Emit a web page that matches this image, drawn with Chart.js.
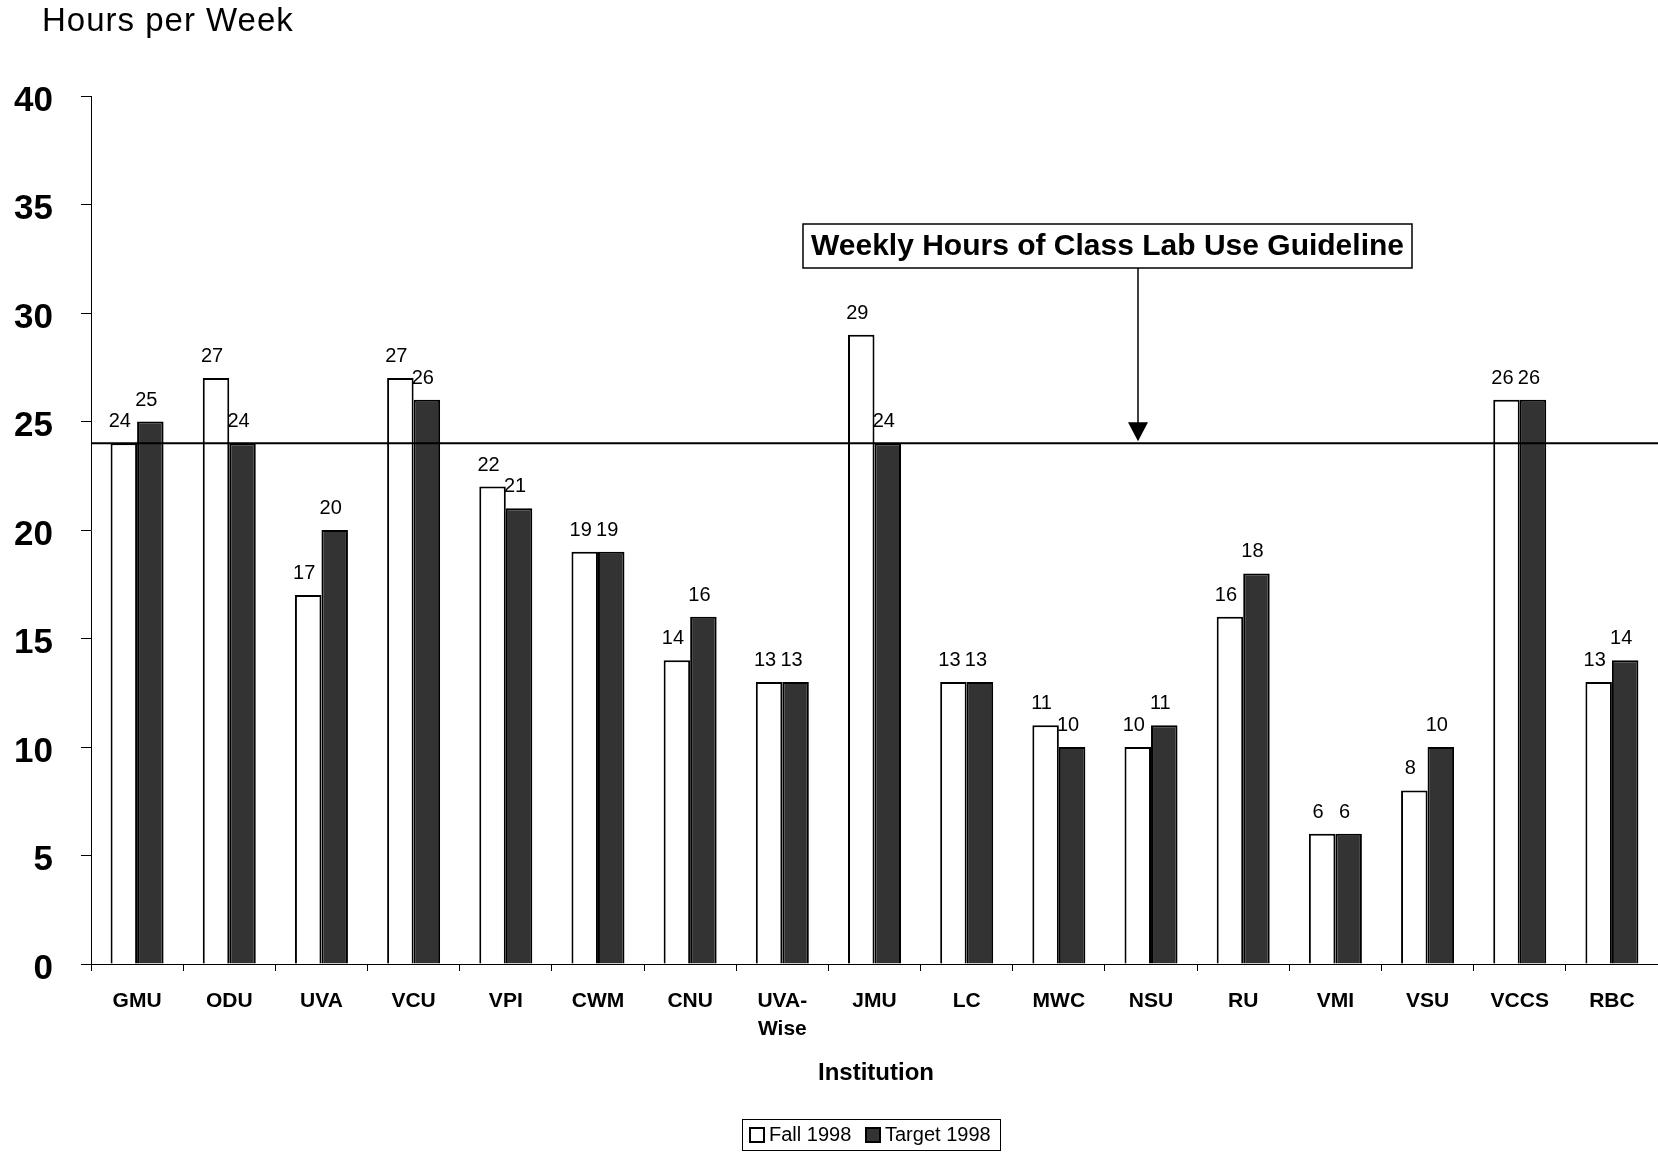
<!DOCTYPE html>
<html>
<head>
<meta charset="utf-8">
<script src="https://cdn.jsdelivr.net/npm/chart.js@4.4.1/dist/chart.umd.min.js"></script>
<style>
  html, body { margin: 0; padding: 0; background: #fff; }
  canvas { display: block; }
</style>
</head>
<body>
<canvas id="chart" width="1658" height="1152"></canvas>
<script>
const FONT = "'Liberation Sans', Arial, sans-serif";
Chart.defaults.font.family = FONT;
Chart.defaults.color = "#000";

const INSTITUTIONS = ["GMU", "ODU", "UVA", "VCU", "VPI", "CWM", "CNU", ["UVA-", "Wise"], "JMU",
                      "LC", "MWC", "NSU", "RU", "VMI", "VSU", "VCCS", "RBC"];
const FALL_1998   = [24, 27, 17, 27, 22, 19, 14, 13, 29, 13, 11, 10, 16, 6, 8, 26, 13];
const TARGET_1998 = [25, 24, 20, 26, 21, 19, 16, 13, 24, 13, 10, 11, 18, 6, 10, 26, 14];
const Y_MIN = 0, Y_MAX = 40, Y_STEP = 5;
const GUIDELINE = 24;

const C = {
    dark:  "#333333",
    light: "#ffffff",
    line:  "#000000",
};

// title, guideline, value labels, axis title, legend and the guideline callout
const extras = {
    id: "extras",
    afterDatasetsDraw(chart) {
        const { ctx, chartArea: a, scales: { y } } = chart;
        const gy = y.getPixelForValue(GUIDELINE);
        ctx.save();
        ctx.strokeStyle = C.line;
        ctx.lineWidth = 2;
        ctx.beginPath();
        ctx.moveTo(a.left, gy);
        ctx.lineTo(a.right, gy);
        ctx.stroke();

        ctx.font = `20px ${FONT}`;
        ctx.fillStyle = "#000";
        ctx.textAlign = "center";
        ctx.textBaseline = "alphabetic";
        chart.data.datasets.forEach((ds, i) => {
            chart.getDatasetMeta(i).data.forEach((bar, j) => {
                ctx.fillText(String(ds.data[j]), bar.x - 4, bar.y - 16);
            });
        });
        ctx.restore();
    },
    afterDraw(chart) {
        const { ctx, scales: { y } } = chart;
        ctx.save();
        ctx.fillStyle = "#000";

        // chart title
        ctx.font = `33px ${FONT}`;
        ctx.letterSpacing = "1px";
        ctx.textAlign = "left";
        ctx.textBaseline = "middle";
        ctx.fillText("Hours per Week", 42, 22);
        ctx.letterSpacing = "0px";

        // x axis title
        ctx.font = `bold 24px ${FONT}`;
        ctx.textAlign = "center";
        ctx.fillText("Institution", 876, 1073);

        // legend
        const lx = 742, ly = 1119, lw = 258, lh = 31;
        ctx.strokeStyle = "#000";
        ctx.lineWidth = 1;
        ctx.strokeRect(lx + 0.5, ly + 0.5, lw, lh);
        ctx.font = `20px ${FONT}`;
        ctx.textAlign = "left";
        const items = [
            { label: "Fall 1998",   fill: C.light, x: lx + 8 },
            { label: "Target 1998", fill: C.dark,  x: lx + 124 },
        ];
        items.forEach(it => {
            ctx.fillStyle = it.fill;
            ctx.fillRect(it.x, ly + 9, 14, 14);
            ctx.lineWidth = 2;
            ctx.strokeRect(it.x, ly + 9, 14, 14);
            ctx.fillStyle = "#000";
            ctx.fillText(it.label, it.x + 19, ly + lh / 2 + 1);
        });

        // callout box + arrow down to the guideline
        const bx = 803, by = 224, bw = 609, bh = 44;
        ctx.fillStyle = "#fff";
        ctx.fillRect(bx, by, bw, bh);
        ctx.lineWidth = 1.5;
        ctx.strokeRect(bx, by, bw, bh);
        ctx.fillStyle = "#000";
        ctx.font = `bold 30px ${FONT}`;
        ctx.textAlign = "center";
        ctx.fillText("Weekly Hours of Class Lab Use Guideline", bx + bw / 2, by + bh / 2 + 1);

        const ax = 1138;
        const tip = y.getPixelForValue(GUIDELINE) - 2;
        ctx.lineWidth = 1.5;
        ctx.beginPath();
        ctx.moveTo(ax, by + bh);
        ctx.lineTo(ax, tip - 18);
        ctx.stroke();
        ctx.beginPath();
        ctx.moveTo(ax - 10, tip - 19);
        ctx.lineTo(ax + 10, tip - 19);
        ctx.lineTo(ax, tip);
        ctx.closePath();
        ctx.fill();
        ctx.restore();
    },
};

new Chart(document.getElementById("chart"), {
    type: "bar",
    data: {
        labels: INSTITUTIONS,
        datasets: [
            {
                label: "Fall 1998",
                data: FALL_1998,
                backgroundColor: C.light,
                borderColor: C.line,
                borderWidth: 2,
            },
            {
                label: "Target 1998",
                data: TARGET_1998,
                backgroundColor: C.dark,
                borderColor: C.line,
                borderWidth: 2,
            },
        ],
    },
    options: {
        responsive: false,
        animation: false,
        layout: { padding: { top: 96, left: 0, right: 0, bottom: 0 } },
        datasets: { bar: { categoryPercentage: 0.575, barPercentage: 1 } },
        plugins: {
            legend: { display: false },
            tooltip: { enabled: false },
        },
        scales: {
            x: {
                afterFit: s => { s.height = 188; },
                grid: { display: true, drawOnChartArea: false, drawTicks: true, tickLength: 7, color: "#000", offset: true },
                border: { display: true, color: "#000", width: 1 },
                ticks: {
                    color: "#000",
                    padding: 16,
                    maxRotation: 0,
                    autoSkip: false,
                    font: { size: 21, weight: "bold", lineHeight: 1.35 },
                },
            },
            y: {
                min: Y_MIN,
                max: Y_MAX,
                afterFit: s => { s.width = 91; },
                grid: { display: true, drawOnChartArea: false, drawTicks: true, tickLength: 10, color: "#000" },
                border: { display: true, color: "#000", width: 1 },
                ticks: {
                    stepSize: Y_STEP,
                    color: "#000",
                    padding: 28,
                    labelOffset: 5,
                    font: { size: 35, weight: "bold" },
                },
            },
        },
    },
    plugins: [extras],
});
</script>
</body>
</html>
